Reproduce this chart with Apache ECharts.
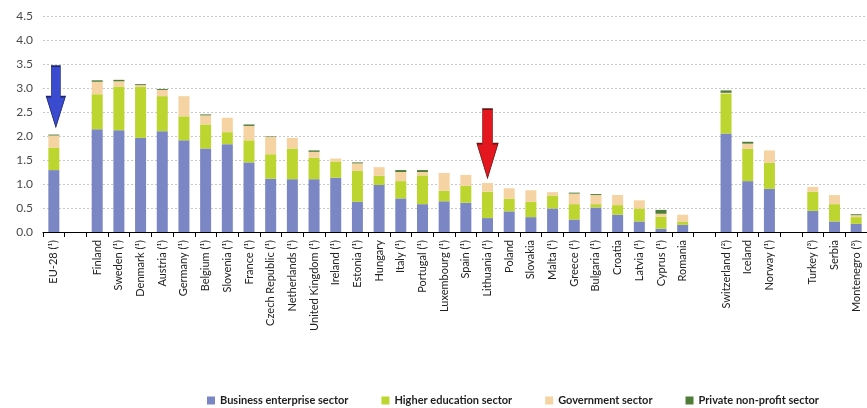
<!DOCTYPE html>
<html>
<head>
<meta charset="utf-8">
<script src="https://cdn.jsdelivr.net/npm/echarts@6/dist/echarts.min.js"></script>
<style>
html,body{margin:0;padding:0;background:#fff;}
#chart{width:867px;height:408px;}
</style>
</head>
<body>
<div id="chart"></div>
<script>
// Categories ('' = spacer slots between groups)
var categories = ['EU-28 (¹)', '', 'Finland', 'Sweden (¹)', 'Denmark (¹)', 'Austria (¹)', 'Germany (¹)', 'Belgium (¹)', 'Slovenia (¹)', 'France (¹)', 'Czech Republic (¹)', 'Netherlands (¹)', 'United Kingdom (¹)', 'Ireland (¹)', 'Estonia (¹)', 'Hungary', 'Italy (¹)', 'Portugal (¹)', 'Luxembourg (¹)', 'Spain (¹)', 'Lithuania (¹)', 'Poland', 'Slovakia', 'Malta (¹)', 'Greece (¹)', 'Bulgaria (¹)', 'Croatia', 'Latvia (¹)', 'Cyprus (¹)', 'Romania', ' ', 'Switzerland (²)', 'Iceland', 'Norway (¹)', '  ', 'Turkey (³)', 'Serbia', 'Montenegro (³)'];

var business = [1.29, null, 2.14, 2.12, 1.96, 2.10, 1.91, 1.74, 1.83, 1.45, 1.11, 1.10, 1.10, 1.13, 0.63, 0.98, 0.70, 0.58, 0.64, 0.61, 0.29, 0.43, 0.31, 0.49, 0.26, 0.51, 0.36, 0.22, 0.07, 0.15, null, 2.05, 1.06, 0.90, null, 0.44, 0.22, 0.17];
var higherEdu = [0.47, null, 0.73, 0.91, 1.06, 0.73, 0.50, 0.50, 0.25, 0.46, 0.51, 0.64, 0.45, 0.34, 0.65, 0.19, 0.36, 0.60, 0.22, 0.35, 0.55, 0.26, 0.32, 0.27, 0.32, 0.07, 0.20, 0.27, 0.25, 0.06, null, 0.83, 0.67, 0.54, null, 0.40, 0.36, 0.14];
var government = [0.25, null, 0.26, 0.11, 0.04, 0.13, 0.42, 0.19, 0.30, 0.30, 0.36, 0.22, 0.12, 0.06, 0.15, 0.18, 0.19, 0.07, 0.37, 0.23, 0.18, 0.22, 0.24, 0.07, 0.22, 0.19, 0.21, 0.17, 0.06, 0.15, null, 0.02, 0.11, 0.26, null, 0.10, 0.19, 0.04];
var privateNP = [0.02, null, 0.03, 0.03, 0.02, 0.02, null, 0.02, null, 0.03, 0.01, null, 0.03, null, 0.02, null, 0.04, 0.04, null, null, null, null, null, null, 0.02, 0.02, null, null, 0.08, null, null, 0.05, 0.04, null, null, null, null, 0.02];

var yTicks = [0, 0.5, 1.0, 1.5, 2.0, 2.5, 3.0, 3.5, 4.0, 4.5];
var seriesNames = ['Business enterprise sector', 'Higher education sector', 'Government sector', 'Private non-profit sector'];

var FONT = 'Lato, "Liberation Sans", sans-serif';
var colors = ['#7b86c4', '#bdd52f', '#f5d3a2', '#4f7d38'];
var arrowPath = 'path://M26,0 L74,0 L74,150 L100,150 L50,300 L0,150 L26,150 Z';

var chart = echarts.init(document.getElementById('chart'), null, {renderer: 'canvas'});

function barSeries(name, data, color) {
  return {
    name: name,
    type: 'bar',
    stack: 'total',
    data: data,
    barWidth: 11,
    itemStyle: {color: color},
    emphasis: {disabled: true}
  };
}

var option = {
  animation: false,
  backgroundColor: '#ffffff',
  color: colors,
  grid: {left: 43, top: 16, bottom: 176, width: 826, containLabel: false},
  legend: {
    data: seriesNames,
    left: 207,
    top: 394,
    padding: 0,
    icon: 'rect',
    itemWidth: 8,
    itemHeight: 8,
    itemGap: 33,
    textStyle: {fontFamily: FONT, fontWeight: 'bold', fontSize: 11, color: '#1e1e1e', lineHeight: 13}
  },
  xAxis: {
    type: 'category',
    data: categories,
    boundaryGap: true,
    axisLine: {lineStyle: {color: '#000', width: 1}},
    axisTick: {show: true, length: 5, lineStyle: {color: '#000'}, alignWithLabel: false, interval: 0},
    axisLabel: {interval: 0, rotate: 90, margin: 8, fontFamily: FONT, fontSize: 11, color: '#222'},
    splitLine: {show: false}
  },
  yAxis: {
    type: 'value',
    min: yTicks[0],
    max: yTicks[yTicks.length - 1],
    interval: 0.5,
    axisLine: {show: false},
    axisTick: {show: false},
    axisLabel: {
      fontFamily: FONT, fontSize: 12, color: '#4a4a4a', margin: 10,
      formatter: function (v) { return v.toFixed(1); }
    },
    splitLine: {lineStyle: {color: '#c8c8c8', type: [2, 2], width: 1}}
  },
  series: [
    barSeries(seriesNames[0], business, colors[0]),
    barSeries(seriesNames[1], higherEdu, colors[1]),
    barSeries(seriesNames[2], government, colors[2]),
    barSeries(seriesNames[3], privateNP, colors[3]),
    {
      name: 'arrows',
      type: 'scatter',
      data: [],
      silent: true,
      markPoint: {
        silent: true,
        label: {show: false},
        data: [
          {coord: [categories[0], 2.82], symbol: arrowPath, symbolSize: [19, 61], symbolOffset: [2, 0],
           itemStyle: {color: '#3a4bd0', borderColor: '#1c2570', borderWidth: 1}},
          {coord: [categories[20], 1.84], symbol: arrowPath, symbolSize: [21, 69], symbolOffset: [0, 0],
           itemStyle: {color: '#e4171f', borderColor: '#6a1515', borderWidth: 1}}
        ]
      }
    }
  ]
};
chart.setOption(option);
</script>
</body>
</html>
